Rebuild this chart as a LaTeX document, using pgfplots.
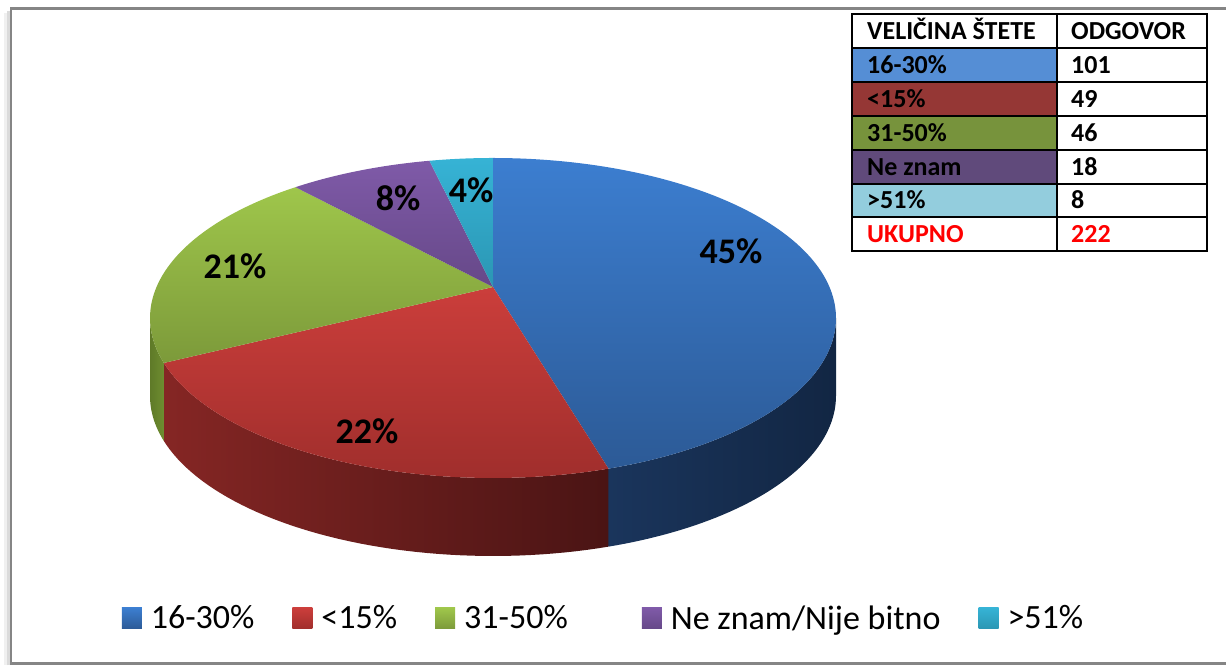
\documentclass[border=0pt]{standalone}
\usepackage{fontspec}
\setmainfont{Carlito}
\usepackage{pgfplots}
\usepackage{pgfplotstable}
\pgfplotsset{compat=1.18}

\definecolor{bT1}{HTML}{3C7ED0}\definecolor{bT2}{HTML}{2C5A96}
\definecolor{rT1}{HTML}{CB3E3B}\definecolor{rT2}{HTML}{A02E2C}
\definecolor{gT1}{HTML}{9FC64B}\definecolor{gT2}{HTML}{7C9A3A}
\definecolor{pT1}{HTML}{7F5AA8}\definecolor{pT2}{HTML}{664888}
\definecolor{cT1}{HTML}{36B3D5}\definecolor{cT2}{HTML}{2B96B3}
\definecolor{bS1}{HTML}{1A355C}\definecolor{bS2}{HTML}{122643}
\definecolor{rS1}{HTML}{852624}\definecolor{rS2}{HTML}{4A1414}
\definecolor{gS1}{HTML}{5F7A28}\definecolor{gS2}{HTML}{6E8D30}
\definecolor{tabB}{HTML}{558ED5}
\definecolor{tabR}{HTML}{953735}
\definecolor{tabG}{HTML}{77933C}
\definecolor{tabP}{HTML}{604A7B}
\definecolor{tabC}{HTML}{93CDDD}
\definecolor{frameG}{HTML}{858585}

\pgfplotstableread{
slice value
1 101
2 49
3 46
4 18
5 8
}\piedata

\pgfplotstablegetelem{0}{value}\of\piedata \let\vA\pgfplotsretval
\pgfplotstablegetelem{1}{value}\of\piedata \let\vB\pgfplotsretval
\pgfplotstablegetelem{2}{value}\of\piedata \let\vC\pgfplotsretval
\pgfplotstablegetelem{3}{value}\of\piedata \let\vD\pgfplotsretval
\pgfplotstablegetelem{4}{value}\of\piedata \let\vE\pgfplotsretval
\pgfmathsetmacro\tot{\vA+\vB+\vC+\vD+\vE}
\pgfmathsetmacro\aA{90}
\pgfmathsetmacro\aB{\aA-360*(\vA/\tot)}
\pgfmathsetmacro\aC{\aB-360*(\vB/\tot)}
\pgfmathsetmacro\aD{\aC-360*(\vC/\tot)}
\pgfmathsetmacro\aE{\aD-360*(\vD/\tot)}
\pgfmathsetmacro\aF{\aE-360*(\vE/\tot)}
\pgfmathsetmacro\sL{-180+asin(0.1937)}
\pgfmathsetmacro\sR{-asin(0.1937)}

\newcommand\lbl{\bfseries\fontsize{36}{40}\selectfont}
\newcommand\tbf{\bfseries\fontsize{26}{30}\selectfont}

\begin{document}
\begin{tikzpicture}
\begin{axis}[
  x=1pt, y=1pt,
  xmin=0, xmax=1226, ymin=0, ymax=665,
  hide axis, clip=false,
  declare function={
    px(\t)=493+336.5*cos(\t)/(1+0.1937*sin(\t));
    py(\t)=378+154*sin(\t)/(1+0.1937*sin(\t));
    th(\n,\a,\b)=ifthenelse(\n<=50, \a+(\b-\a)*\n/50, \b-(\b-\a)*(\n-51)/50);
  },
  legend columns=5,
  legend style={at={(0.4935,0.0707)}, anchor=center, draw=none, fill=none,
    font=\fontsize{34}{40}\selectfont,
    /tikz/every odd column/.append style={column sep=4pt},
    /tikz/every even column/.append style={column sep=33pt},
    nodes={inner xsep=5pt, inner ysep=0pt}},
  legend image code/.code={\path[#1,draw=none] (0pt,-11pt) rectangle (20pt,10pt);},
]
% frame
\draw[line width=3pt, black!6] (5,0) -- (5,652);
\draw[line width=3pt, black!14] (8,0) -- (8,654);
\draw[line width=2.5pt, frameG] (1226,656.5) -- (11,656.5) -- (11,1.5) -- (1226,1.5);

% side walls
\addplot[forget plot, draw=none, left color=bS1, right color=bS2, samples at={0,1,...,101}]
  ({px(th(x,\aB,\sR))},{py(th(x,\aB,\sR))-78*(x>50)}) -- cycle;
\addplot[forget plot, draw=none, left color=rS1, right color=rS2, samples at={0,1,...,101}]
  ({px(th(x,\aC,\aB))},{py(th(x,\aC,\aB))-78*(x>50)}) -- cycle;
\addplot[forget plot, draw=none, left color=gS1, right color=gS2, samples at={0,1,...,101}]
  ({px(th(x,\sL,\aC))},{py(th(x,\sL,\aC))-78*(x>50)}) -- cycle;

% top surfaces
\addplot[draw=none, top color=bT1, bottom color=bT2, domain=\aB:\aA, samples=120]
  ({px(x)},{py(x)}) -- (493,378) -- cycle;
\addlegendentry{16-30\%}
\addplot[draw=none, top color=rT1, bottom color=rT2, domain=\aC:\aB, samples=80]
  ({px(x)},{py(x)}) -- (493,378) -- cycle;
\addlegendentry{<15\%}
\addplot[draw=none, top color=gT1, bottom color=gT2, domain=\aD:\aC, samples=80]
  ({px(x)},{py(x)}) -- (493,378) -- cycle;
\addlegendentry{31-50\%\kern36pt}
\addplot[draw=none, top color=pT1, bottom color=pT2, domain=\aE:\aD, samples=40]
  ({px(x)},{py(x)}) -- (493,378) -- cycle;
\addlegendentry{Ne znam/Nije bitno}
\addplot[draw=none, top color=cT1, bottom color=cT2, domain=\aF:\aE, samples=30]
  ({px(x)},{py(x)}) -- (493,378) -- cycle;
\addlegendentry{>51\%}

% slice labels
\node[font=\lbl, anchor=base] at (731,401) {45\%};
\node[font=\lbl, anchor=base] at (367,222) {22\%};
\node[font=\lbl, anchor=base] at (235,386) {21\%};
\node[font=\lbl, anchor=base] at (398,454) {8\%};
\node[font=\lbl, anchor=base] at (471,462) {4\%};

% table
\fill[white] (852,414) rectangle (1207,651);
\fill[tabB] (852,583) rectangle (1057,617);
\fill[tabR] (852,549) rectangle (1057,583);
\fill[tabG] (852,515) rectangle (1057,549);
\fill[tabP] (852,481) rectangle (1057,515);
\fill[tabC] (852,448) rectangle (1057,481);
\draw[line width=2pt, black] (852,414) rectangle (1207,651);
\draw[line width=2pt, black] (852,617) -- (1207,617);
\draw[line width=2pt, black] (852,583) -- (1207,583);
\draw[line width=2pt, black] (852,549) -- (1207,549);
\draw[line width=2pt, black] (852,515) -- (1207,515);
\draw[line width=2pt, black] (852,481) -- (1207,481);
\draw[line width=2pt, black] (852,448) -- (1207,448);
\draw[line width=2pt, black] (1057,414) -- (1057,651);
\node[font=\tbf, anchor=base west, inner sep=0pt] at (867,625.5) {VELIČINA ŠTETE};
\node[font=\tbf, anchor=base west, inner sep=0pt] at (1071,625.5) {ODGOVOR};
\node[font=\tbf, anchor=base west, inner sep=0pt] at (867,591.5) {16-30\%};
\node[font=\tbf, anchor=base west, inner sep=0pt] at (1071,591.5) {101};
\node[font=\tbf, anchor=base west, inner sep=0pt] at (867,557.5) {<15\%};
\node[font=\tbf, anchor=base west, inner sep=0pt] at (1071,557.5) {49};
\node[font=\tbf, anchor=base west, inner sep=0pt] at (867,523.5) {31-50\%};
\node[font=\tbf, anchor=base west, inner sep=0pt] at (1071,523.5) {46};
\node[font=\tbf, anchor=base west, inner sep=0pt] at (867,489.5) {Ne znam};
\node[font=\tbf, anchor=base west, inner sep=0pt] at (1071,489.5) {18};
\node[font=\tbf, anchor=base west, inner sep=0pt] at (867,456) {>51\%};
\node[font=\tbf, anchor=base west, inner sep=0pt] at (1071,456) {8};
\node[font=\tbf, anchor=base west, inner sep=0pt, text=red] at (867,422.5) {UKUPNO};
\node[font=\tbf, anchor=base west, inner sep=0pt, text=red] at (1071,422.5) {222};

\coordinate (BL) at (0,0);
\coordinate (TR) at (1226,665);
\end{axis}
\pgfresetboundingbox
\path[use as bounding box] (BL) rectangle (TR);
\end{tikzpicture}
\end{document}
